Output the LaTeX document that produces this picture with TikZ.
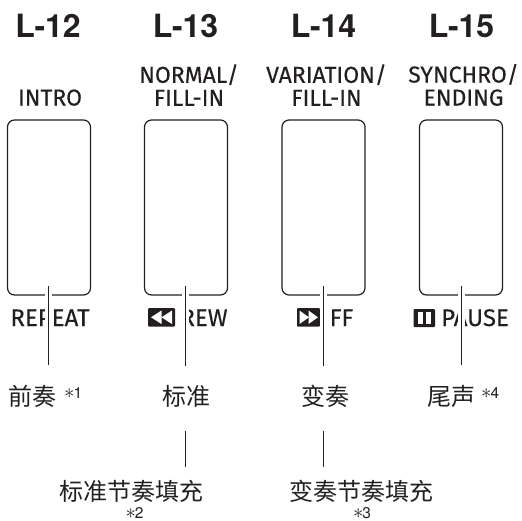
\documentclass[tikz,border=0pt]{standalone}
\usepackage{fontspec}
\setmainfont[FakeBold=0.25]{Fira Sans}
\newfontfamily\headfont{TeX Gyre Heros}
\newfontfamily\cjkfont{Noto Sans CJK SC}
\usepackage{xcolor}
\usetikzlibrary{positioning}
\definecolor{inkc}{HTML}{231F20}
\newcommand{\starmark}{\smash{\fontsize{20.74}{20.74}\selectfont\(\ast\)}\kern-1pt}

\begin{document}
\begin{tikzpicture}[x=1pt,y=-1pt]
  \tikzset{
    btn/.style={draw=inkc,line width=1.2pt,rounded corners=7pt,minimum width=83pt,minimum height=175pt,inner sep=0pt},
    headtxt/.style={inkc,font=\headfont\bfseries\fontsize{32}{32}\selectfont,inner sep=0pt},
    captxt/.style={inkc,font=\fontsize{23}{23}\selectfont,align=center,inner sep=0pt,anchor=south},
    undertxt/.style={inkc,font=\fontsize{24}{24}\selectfont,inner sep=0pt,anchor=base},
    zhtxt/.style={inkc,font=\cjkfont\fontsize{24}{24}\selectfont,inner sep=0pt,anchor=base},
    notetxt/.style={inkc,font=\headfont\fontsize{15.5}{15.5}\selectfont,inner sep=0pt,anchor=base},
    halo/.style={white,line width=7.5pt},
    leadline/.style={inkc,line width=1.1pt},
    icn/.style={fill=inkc,rounded corners=1pt},
  }
  \useasboundingbox (0,0) rectangle (522,520);

  \node[headtxt] (la) at (48,26) {L-12};
  \node[headtxt] (lb) at (185.5,26) {L-13};
  \node[headtxt] (lc) at (323.5,26) {L-14};
  \node[headtxt] (ld) at (461.5,26) {L-15};

  \node[captxt] (ca) at (50,106) {INTRO};
  \node[captxt] (cb) at (189,106) {NORMAL/\\FILL-IN};
  \node[captxt] (cc) at (326.5,106) {VARIATION/\\FILL-IN};
  \node[captxt] (cd) at (463.5,106) {SYNCHRO/\\ENDING};

  \node[btn] (ba) at (49,207.5) {};
  \node[btn] (bb) at (186,207.5) {};
  \node[btn] (bc) at (323.5,207.5) {};
  \node[btn] (bd) at (461,207.5) {};

  \node[undertxt] (ua) at (50,326) {REPEAT};
  \node[undertxt] (ub) at (204,326) {REW};
  \node[undertxt] (uc) at (341.5,326) {FF};
  \node[undertxt] (ud) at (475,326) {PAUSE};

  % icons
  \fill[icn] (148,308) rectangle (175,326.5);
  \fill[white] (161.5,310.5) -- (151,317.3) -- (161.5,324) -- cycle;
  \fill[white] (172,310.5) -- (161.5,317.3) -- (172,324) -- cycle;
  \fill[icn] (297,308) rectangle (320,326.5);
  \fill[white] (299.5,310.5) -- (309,317.3) -- (299.5,324) -- cycle;
  \fill[white] (308.5,310.5) -- (318,317.3) -- (308.5,324) -- cycle;
  \fill[icn] (413.5,309) rectangle (435,327);
  \fill[white] (417.5,312) rectangle (423,324);
  \fill[white] (425.5,312) rectangle (431,324);

  \node[zhtxt] (za) at (32.5,405) {前奏};
  \node[notetxt,anchor=base west] (na) at (64,398.5) {\starmark 1};
  \node[zhtxt] (zb) at (186,405) {标准};
  \node[zhtxt] (zc) at (325.5,405) {变奏};
  \node[zhtxt] (zd) at (451,405) {尾声};
  \node[notetxt,anchor=base west] (nd) at (481,398.5) {\starmark 4};

  \node[zhtxt] (fb) at (131,500) {标准节奏填充};
  \node[zhtxt] (fc) at (361,500) {变奏节奏填充};
  \node[notetxt] (nb) at (134.5,518.5) {\starmark 2};
  \node[notetxt] (nc) at (362,518.5) {\starmark 3};

  \coordinate (ta) at (48.5,286);
  \coordinate (tb) at (185.5,286);
  \coordinate (tc) at (323.5,286);
  \coordinate (td) at (461.5,286);
  \coordinate (ea) at (48.5,364.5);
  \coordinate (eb) at (185.5,365.5);
  \coordinate (ec) at (323.5,365.5);
  \coordinate (ed) at (461.5,364.5);
  \coordinate (sb) at (185.5,431);
  \coordinate (sc) at (323.5,431);
  \coordinate (xb) at (185.5,467);
  \coordinate (xc) at (323.5,467);
  \coordinate (ga) at (48.5,332);
  \coordinate (gb) at (185.5,332);
  \coordinate (gc) at (323.5,332);
  \coordinate (gd) at (461.5,332);

  \foreach \n in {a,b,c,d} {
    \draw[halo] (t\n) -- (g\n);
    \draw[leadline] (t\n) -- (e\n);
  }
  \draw[leadline] (sb) -- (xb);
  \draw[leadline] (sc) -- (xc);
\end{tikzpicture}
\end{document}
